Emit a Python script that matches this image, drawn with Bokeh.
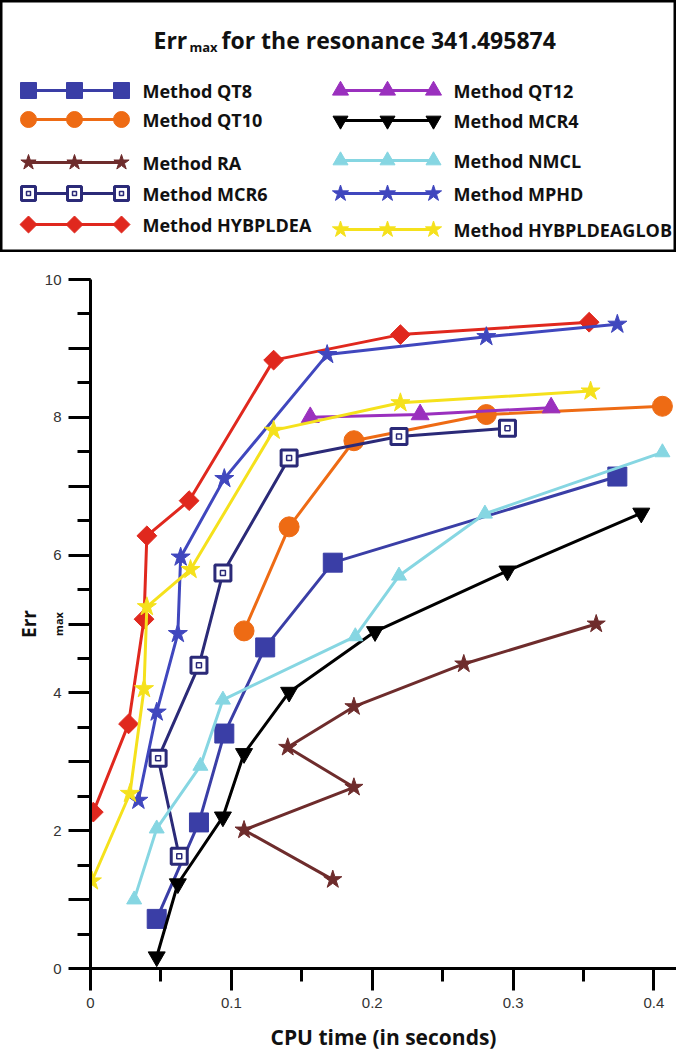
import math
from bokeh.plotting import figure
from bokeh.models import Range1d, SingleIntervalTicker, FixedTicker, LinearAxis
from bokeh.core.properties import value
from bokeh.embed import file_html
from bokeh.resources import INLINE

# ---------------- data ----------------
methods = ["Method QT8", "Method QT10", "Method RA", "Method MCR6", "Method HYBPLDEA",
           "Method QT12", "Method MCR4", "Method NMCL", "Method MPHD", "Method HYBPLDEAGLOB"]

qt8_x = [0.047, 0.077, 0.095, 0.124, 0.172, 0.374]
qt8_y = [0.72, 2.12, 3.41, 4.66, 5.89, 7.14]

qt10_x = [0.109, 0.141, 0.187, 0.281, 0.406]
qt10_y = [4.90, 6.41, 7.66, 8.04, 8.16]

ra_x = [0.172, 0.109, 0.187, 0.140, 0.187, 0.265, 0.359]
ra_y = [1.29, 2.01, 2.63, 3.21, 3.80, 4.42, 5.00]

mcr6_x = [0.063, 0.048, 0.077, 0.094, 0.141, 0.219, 0.296]
mcr6_y = [1.63, 3.05, 4.40, 5.74, 7.41, 7.72, 7.84]

hyb_x = [0.002, 0.027, 0.038, 0.040, 0.070, 0.130, 0.220, 0.354]
hyb_y = [2.27, 3.55, 5.07, 6.28, 6.79, 8.83, 9.20, 9.38]

qt12_x = [0.156, 0.234, 0.327]
qt12_y = [8.00, 8.04, 8.14]

mcr4_x = [0.047, 0.062, 0.094, 0.109, 0.141, 0.202, 0.296, 0.391]
mcr4_y = [0.17, 1.23, 2.20, 3.12, 4.01, 4.89, 5.77, 6.61]

nmcl_x = [0.031, 0.047, 0.078, 0.094, 0.188, 0.219, 0.280, 0.406]
nmcl_y = [1.00, 2.03, 2.94, 3.90, 4.82, 5.70, 6.60, 7.49]

mphd_x = [0.034, 0.047, 0.062, 0.064, 0.095, 0.168, 0.281, 0.374]
mphd_y = [2.44, 3.72, 4.86, 5.97, 7.11, 8.91, 9.17, 9.35]

glob_x = [0.001, 0.028, 0.038, 0.040, 0.071, 0.130, 0.220, 0.355]
glob_y = [1.27, 2.54, 4.06, 5.25, 5.79, 7.81, 8.21, 8.38]

x_ticks_labels = {0: "0"}
y_hidden_labels = {1: "", 3: "", 5: "", 7: "", 9: ""}

title_main = "Err"
title_sub = "max"
title_rest = "for the resonance 341.495874"
x_label = "CPU time (in seconds)"

# ---------------- styles ----------------
colors = ["#3A3EA6", "#EE6B14", "#6E2C2C", "#2B2A78", "#E0281E",
          "#9A30BE", "#000000", "#86D6E2", "#4047BE", "#F5E11C"]
markers = ["square", "circle", "star", "square", "square",
           "triangle", "inverted_triangle", "triangle", "star", "star"]
sizes = [19, 20, 19, 16, 14, 18, 17, 15, 20, 20]
leg_sizes = [16, 16, 16, 14, 12, 16, 15, 15, 17, 17]
angles = [0, 0, 0, 0, math.pi / 4, 0, 0, 0, 0, 0]
hollow = [False, False, False, True, False, False, False, False, False, False]

series = [(qt8_x, qt8_y), (qt10_x, qt10_y), (ra_x, ra_y), (mcr6_x, mcr6_y), (hyb_x, hyb_y),
          (qt12_x, qt12_y), (mcr4_x, mcr4_y), (nmcl_x, nmcl_y), (mphd_x, mphd_y), (glob_x, glob_y)]

FONT = value("Open Sans")
W = 676

# ---------------- legend panel ----------------
LH = 252
lf = figure(width=W, height=LH, x_range=Range1d(0, W), y_range=Range1d(LH, 0),
            output_backend="svg", toolbar_location=None, min_border=0,
            x_axis_location=None, y_axis_location=None)
lf.xgrid.grid_line_color = None
lf.ygrid.grid_line_color = None
lf.outline_line_color = "black"
lf.outline_line_width = 4
lf.background_fill_color = "white"

lf.text(x=[153], y=[39], text=[title_main], text_font=FONT, text_font_style="bold",
        text_font_size="23px", text_baseline="alphabetic", text_align="left", text_color="#111111")
lf.text(x=[189], y=[46], text=[title_sub], text_font=FONT, text_font_style="bold",
        text_font_size="13px", text_baseline="alphabetic", text_align="left", text_color="#111111")
lf.text(x=[221], y=[39], text=[title_rest], text_font=FONT, text_font_style="bold",
        text_font_size="23px", text_baseline="alphabetic", text_align="left", text_color="#111111")

rows_left = [90, 119, 162, 193, 224]
rows_right = [90, 120, 160, 193, 229]
mx_left = [28, 74, 121]
mx_right = [340, 387, 433]
tx_left, tx_right = 142, 453

for i, name in enumerate(methods):
    if i < 5:
        y = rows_left[i]; mx = mx_left; tx = tx_left
    else:
        y = rows_right[i - 5]; mx = mx_right; tx = tx_right
    ys = [y] * len(mx)
    lf.line(mx, ys, line_color=colors[i], line_width=3)
    if hollow[i]:
        lf.scatter(mx, ys, marker="square", size=leg_sizes[i], fill_color="white",
                   line_color=colors[i], line_width=3)
        lf.scatter(mx, ys, marker="square", size=4, fill_color="white",
                   line_color=colors[i], line_width=1.5)
    else:
        lf.scatter(mx, ys, marker=markers[i], size=leg_sizes[i], angle=angles[i],
                   fill_color=colors[i], line_color=colors[i], line_width=1)
    lf.text(x=[tx], y=[y], text=[name], text_font=FONT, text_font_style="bold",
            text_font_size="18px", text_baseline="middle", text_align="left", text_color="#111111")

# ---------------- main plot ----------------
p = figure(width=W, height=1054 - LH, x_range=Range1d(0, 0.416), y_range=Range1d(0, 10),
           output_backend="svg", toolbar_location=None,
           min_border_left=90, min_border_right=0, min_border_top=27, min_border_bottom=86)
p.xgrid.grid_line_color = None
p.ygrid.grid_line_color = None
p.outline_line_color = None

p.xaxis.ticker = SingleIntervalTicker(interval=0.1, num_minor_ticks=2)
p.yaxis.ticker = SingleIntervalTicker(interval=1, num_minor_ticks=2)
p.xaxis.major_label_overrides = x_ticks_labels
p.yaxis.major_label_overrides = y_hidden_labels

for ax in (p.xaxis[0], p.yaxis[0]):
    ax.axis_line_width = 3
    ax.axis_line_color = "black"
    ax.major_tick_line_width = 3
    ax.minor_tick_line_width = 3
    ax.major_tick_line_color = "black"
    ax.minor_tick_line_color = "black"
    ax.major_tick_in = 0
    ax.minor_tick_in = 0
    ax.major_tick_out = 22
    ax.minor_tick_out = 13
    ax.major_label_text_font = "Liberation Sans"
    ax.major_label_text_font_size = "15px"
    ax.major_label_text_color = "#333333"

p.yaxis.major_label_standoff = 7
p.xaxis.major_label_standoff = 7
p.xaxis.axis_label = x_label
p.xaxis.axis_label_text_font = "Open Sans"
p.xaxis.axis_label_text_font_style = "bold"
p.xaxis.axis_label_text_font_size = "21px"
p.xaxis.axis_label_text_color = "#111111"
p.xaxis.axis_label_standoff = 12

# y-axis label: "Err" with subscript "max" (subscript sits on a lower line)
p.yaxis.axis_label = "\n" + title_sub
p.yaxis.axis_label_text_font = "Open Sans"
p.yaxis.axis_label_text_font_style = "bold"
p.yaxis.axis_label_text_font_size = "11px"
p.yaxis.axis_label_text_color = "#111111"
p.yaxis.axis_label_standoff = -24

outer = LinearAxis(ticker=FixedTicker(ticks=[]), axis_label=title_main,
                   axis_line_color=None, major_tick_out=0, minor_tick_out=0,
                   major_tick_in=0, minor_tick_in=0, major_label_standoff=0,
                   axis_label_text_font="Open Sans", axis_label_text_font_style="bold",
                   axis_label_text_font_size="19px", axis_label_text_color="#111111",
                   axis_label_standoff=-12)
p.add_layout(outer, "left")

for i, (xs, ys) in enumerate(series):
    p.line(xs, ys, line_color=colors[i], line_width=3)
    if hollow[i]:
        p.scatter(xs, ys, marker="square", size=sizes[i], fill_color="white",
                  line_color=colors[i], line_width=3)
        p.scatter(xs, ys, marker="square", size=5, fill_color="white",
                  line_color=colors[i], line_width=1.5)
    else:
        p.scatter(xs, ys, marker=markers[i], size=sizes[i], angle=angles[i],
                  fill_color=colors[i], line_color=colors[i], line_width=1)

open("out.html", "w").write(file_html((lf, p), INLINE))
